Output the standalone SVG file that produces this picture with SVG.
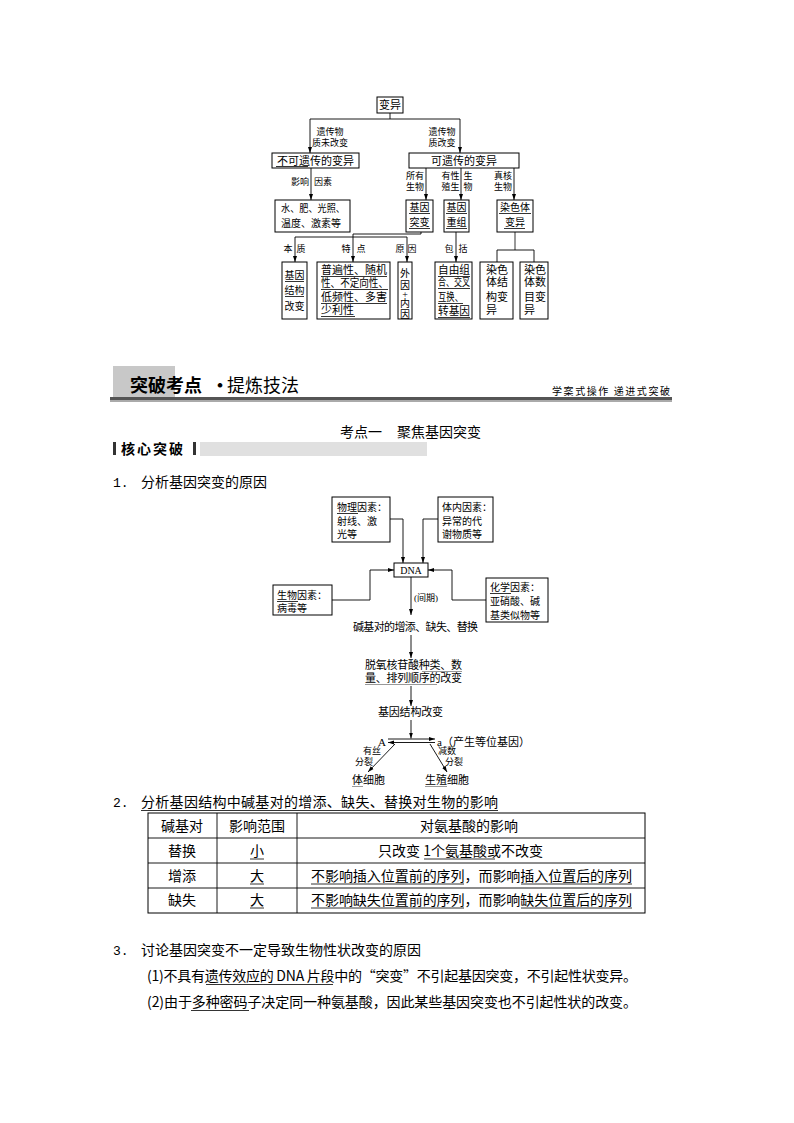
<svg xmlns="http://www.w3.org/2000/svg" width="794" height="1123" viewBox="0 0 794 1123">
<style>
.bx{fill:none;stroke:#000;stroke-width:1}
.ln{fill:none;stroke:#000;stroke-width:0.9}
.ar{fill:none;stroke:#000;stroke-width:0.9;marker-end:url(#ah)}
.ul{stroke:#000;stroke-width:0.8}
.ug{stroke:#999;stroke-width:1}
.d{font-family:"Liberation Serif","Noto Sans CJK SC",serif;fill:#000}
.s{font-family:"Noto Sans CJK SC",sans-serif;fill:#000}
.m{font-family:"Liberation Mono",monospace;fill:#000}
.c{text-anchor:middle}
.f9{font-size:9px}
.f10{font-size:10px}
.f11{font-size:11px}
.f14{font-size:14px}
</style>
<defs>
<marker id="ah" markerWidth="6" markerHeight="6" refX="6" refY="3" orient="auto" markerUnits="userSpaceOnUse">
<path d="M0,1 L6,3 L0,5 z" fill="#000"/>
</marker>
</defs>
<rect width="794" height="1123" fill="#fff"/>

<!-- ===== Top tree ===== -->
<g id="tree-connectors">
<path class="ln" d="M390,113 V119 M310,119 H460"/>
<path class="ar" d="M310,119 V153"/>
<path class="ar" d="M460,119 V153"/>
<path class="ar" d="M311,168 V200"/>
<path class="ar" d="M426,168 V200"/>
<path class="ar" d="M461,168 V200"/>
<path class="ar" d="M514,168 V200"/>
<path class="ar" d="M421,232 V234 H353 V262"/>
<path class="ln" d="M295,237 H407"/>
<path class="ar" d="M295,237 V262"/>
<path class="ar" d="M407,237 V262"/>
<path class="ar" d="M456,232 V262"/>
<path d="M515,232 V250" stroke="#999" stroke-width="2" fill="none"/>
<path class="ln" d="M497,262 V250 H534 V262"/>
</g>
<g id="tree-labels" class="d f9">
<text x="330" y="135" class="c">遗传物</text>
<text x="330" y="145.5" class="c">质未改变</text>
<text x="442" y="135" class="c">遗传物</text>
<text x="442" y="145.5" class="c">质改变</text>
<text x="300" y="185" class="c">影响</text>
<text x="323" y="185" class="c">因素</text>
<text x="415" y="179" class="c">所有</text>
<text x="415" y="189.5" class="c">生物</text>
<text x="450.5" y="179" class="c">有性</text>
<text x="450.5" y="189.5" class="c">殖生</text>
<text x="468" y="179" class="c">生</text>
<text x="468" y="189.5" class="c">物</text>
<text x="503" y="179" class="c">真核</text>
<text x="503" y="189.5" class="c">生物</text>
<text x="288" y="251.5" class="c">本</text>
<text x="301" y="251.5" class="c">质</text>
<text x="346" y="251.5" class="c">特</text>
<text x="361" y="251.5" class="c">点</text>
<text x="400" y="251.5" class="c">原</text>
<text x="412" y="251.5" class="c">因</text>
<text x="449" y="251.5" class="c">包</text>
<text x="463" y="251.5" class="c">括</text>
</g>
<g id="n-bianyi">
<rect class="bx" x="377" y="97" width="26" height="16"/>
<text class="d f11 c" x="390" y="109">变异</text>
</g>
<g id="n-bukeyichuan">
<rect class="bx" x="272" y="153" width="87" height="15"/>
<text class="d f11 c" x="315.5" y="164.5">不可遗传的变异</text>
<line class="ul" x1="276" y1="166.5" x2="308" y2="166.5"/>
</g>
<g id="n-keyichuan">
<rect class="bx" x="409" y="153" width="110" height="15"/>
<text class="d f11 c" x="464" y="164.5">可遗传的变异</text>
</g>
<g id="n-shuifei">
<rect class="bx" x="275" y="200" width="75" height="32"/>
<text class="d f10" x="281" y="212" textLength="64" lengthAdjust="spacingAndGlyphs">水、肥、光照、</text>
<text class="d f10" x="281" y="227" textLength="60" lengthAdjust="spacingAndGlyphs">温度、激素等</text>
</g>
<g id="n-jiyintubian">
<rect class="bx" x="406" y="200" width="27" height="32"/>
<text class="d f10 c" x="419.5" y="211">基因</text>
<text class="d f10 c" x="419.5" y="226">突变</text>
<line class="ul" x1="409" y1="213.5" x2="430" y2="213.5"/>
<line class="ul" x1="409" y1="228.5" x2="430" y2="228.5"/>
</g>
<g id="n-jiyinchongzu">
<rect class="bx" x="444" y="200" width="25" height="32"/>
<text class="d f10 c" x="456.5" y="211">基因</text>
<text class="d f10 c" x="456.5" y="226">重组</text>
<line class="ul" x1="446" y1="213.5" x2="467" y2="213.5"/>
<line class="ul" x1="446" y1="228.5" x2="467" y2="228.5"/>
</g>
<g id="n-ranseti">
<rect class="bx" x="497" y="200" width="36" height="32"/>
<text class="d f10 c" x="515" y="211">染色体</text>
<text class="d f10 c" x="515" y="226">变异</text>
<line class="ul" x1="499" y1="213.5" x2="531" y2="213.5"/>
<line class="ul" x1="504" y1="228.5" x2="525" y2="228.5"/>
</g>
<g id="n-jiegou">
<rect class="bx" x="282" y="262" width="25" height="57"/>
<text class="d f10 c" x="294.5" y="279">基因</text>
<text class="d f10 c" x="294.5" y="294">结构</text>
<text class="d f10 c" x="294.5" y="310">改变</text>
<line class="ul" x1="285" y1="281.5" x2="304" y2="281.5"/>
<line class="ul" x1="285" y1="296.5" x2="304" y2="296.5"/>
</g>
<g id="n-tedian">
<rect class="bx" x="317" y="262" width="73" height="57"/>
<text class="d f11" x="321" y="274" textLength="66" lengthAdjust="spacingAndGlyphs">普遍性、随机</text>
<text class="d f11" x="321" y="287" textLength="67" lengthAdjust="spacingAndGlyphs">性、不定向性、</text>
<text class="d f11" x="321" y="301" textLength="66" lengthAdjust="spacingAndGlyphs">低频性、多害</text>
<text class="d f11" x="321" y="314">少利性</text>
<line class="ul" x1="321" y1="276.5" x2="387" y2="276.5"/>
<line class="ul" x1="321" y1="289.5" x2="388" y2="289.5"/>
<line class="ul" x1="321" y1="303.5" x2="387" y2="303.5"/>
<line class="ul" x1="321" y1="316.5" x2="355" y2="316.5"/>
</g>
<g id="n-waiyin">
<rect class="bx" x="398" y="262" width="14" height="57"/>
<text class="d f10 c" x="405" y="277">外</text>
<text class="d f10 c" x="405" y="289">因</text>
<text class="d f10 c" x="405" y="298">+</text>
<text class="d f10 c" x="405" y="307">内</text>
<text class="d f10 c" x="405" y="318">因</text>
</g>
<g id="n-baokuo">
<rect class="bx" x="435" y="262" width="37" height="57"/>
<text class="d f11" x="438" y="274" textLength="32" lengthAdjust="spacingAndGlyphs">自由组</text>
<text class="d f11" x="438" y="286" textLength="32" lengthAdjust="spacingAndGlyphs">合、交叉</text>
<text class="d f11" x="438" y="301" textLength="25" lengthAdjust="spacingAndGlyphs">互换、</text>
<text class="d f11" x="438" y="315" textLength="32" lengthAdjust="spacingAndGlyphs">转基因</text>
<line class="ul" x1="438" y1="276.5" x2="470" y2="276.5"/>
<line class="ul" x1="438" y1="288.5" x2="470" y2="288.5"/>
<line class="ul" x1="438" y1="303.5" x2="463" y2="303.5"/>
<line class="ul" x1="438" y1="317.5" x2="470" y2="317.5"/>
</g>
<g id="n-jiegoubianyi">
<rect class="bx" x="480" y="262" width="33" height="57"/>
<text class="d f11" x="486" y="274">染色</text>
<text class="d f11" x="486" y="286">体结</text>
<text class="d f11" x="486" y="301">构变</text>
<text class="d f11" x="486" y="314">异</text>
</g>
<g id="n-shumubianyi">
<rect class="bx" x="520" y="262" width="28" height="57"/>
<text class="d f11" x="524" y="274">染色</text>
<text class="d f11" x="524" y="286">体数</text>
<text class="d f11" x="524" y="301">目变</text>
<text class="d f11" x="524" y="314">异</text>
</g>

<!-- ===== Banner ===== -->
<g id="banner">
<rect x="113" y="366" width="62" height="32" fill="#c8c8c8"/>
<text class="s" x="130" y="392" font-size="18" font-weight="bold">突破考点</text>
<text class="s" x="211" y="392" font-size="18" font-weight="bold">·</text>
<text class="s" x="227" y="392" font-size="18">提炼技法</text>
<rect x="110" y="397" width="562" height="3" fill="#555"/>
<rect x="110" y="400" width="562" height="2" fill="#aaa"/>
<text class="s" x="552" y="395" font-size="10" fill="#444" textLength="118">学案式操作 递进式突破</text>
</g>
<g id="kaodian">
<text class="s f14" x="340" y="437">考点一</text>
<text class="s f14" x="397" y="437">聚焦基因突变</text>
</g>
<g id="hexin">
<rect x="200" y="442" width="227" height="14" fill="#e0e0e0"/>
<rect x="113" y="442" width="3" height="13" fill="#333"/>
<rect x="193" y="442" width="3" height="13" fill="#333"/>
<text class="s f14" x="121" y="454" font-weight="bold" letter-spacing="2" fill="#222">核心突破</text>
</g>
<g id="sec1">
<text class="m" x="113" y="487" font-size="13">1.</text>
<text class="s f14" x="141" y="487">分析基因突变的原因</text>
</g>

<!-- ===== DNA diagram ===== -->
<g id="dna-connectors">
<path class="ar" d="M390,519 H403 V563"/>
<path class="ar" d="M438,519 H423 V563"/>
<path class="ar" d="M332,600 H370 V570 H394"/>
<path class="ar" d="M486,600 H452 V570 H428"/>
<path class="ar" d="M411,577 V615"/>
<path class="ar" d="M411,635 V658"/>
<path class="ar" d="M411,686 V706"/>
<path class="ar" d="M411,720 V738.5"/>
<path class="ar" d="M388,739 H435"/>
<path class="ar" d="M435,742.5 H388"/>
<path class="ar" d="M395,744 L368,772"/>
<path class="ar" d="M430,744 L447,772"/>
</g>
<g id="n-wuli">
<rect class="bx" x="332" y="497" width="58" height="45"/>
<text class="d f10" x="337" y="511">物理因素：</text>
<text class="d f10" x="337" y="525">射线、激</text>
<text class="d f10" x="337" y="538">光等</text>
<line class="ul" x1="337" y1="513.5" x2="358" y2="513.5"/>
</g>
<g id="n-tinei">
<rect class="bx" x="438" y="497" width="55" height="45"/>
<text class="d f10" x="442" y="511">体内因素：</text>
<text class="d f10" x="442" y="525">异常的代</text>
<text class="d f10" x="442" y="538">谢物质等</text>
</g>
<g id="n-dna">
<rect class="bx" x="394" y="563" width="34" height="14"/>
<text class="d c" x="411" y="574" font-size="10">DNA</text>
</g>
<g id="n-shengwu">
<rect class="bx" x="273" y="585" width="59" height="30"/>
<text class="d f10" x="277" y="599">生物因素：</text>
<text class="d f10" x="277" y="612">病毒等</text>
<line class="ul" x1="277" y1="601.5" x2="298" y2="601.5"/>
</g>
<g id="n-huaxue">
<rect class="bx" x="486" y="578" width="62" height="44"/>
<text class="d f10" x="490" y="591">化学因素：</text>
<text class="d f10" x="490" y="605">亚硝酸、碱</text>
<text class="d f10" x="490" y="619">基类似物等</text>
<line class="ul" x1="490" y1="593.5" x2="511" y2="593.5"/>
</g>
<g id="dna-texts">
<text class="d f9" x="414" y="601">(间期)</text>
<text class="d" x="353" y="631" font-size="11" textLength="125">碱基对的增添、缺失、替换</text>
<text class="d" x="365" y="669" font-size="11" textLength="97">脱氧核苷酸种类、数</text>
<text class="d" x="365" y="682" font-size="11" textLength="97">量、排列顺序的改变</text>
<line class="ug" x1="422" y1="671.5" x2="462" y2="671.5"/>
<line class="ug" x1="365" y1="684.5" x2="437" y2="684.5"/>
<text class="d" x="378" y="716" font-size="11" textLength="65">基因结构改变</text>
<text class="d" x="378" y="746" font-size="11">A</text>
<text class="d" x="437" y="746" font-size="11">a（产生等位基因）</text>
<text class="d f9" x="363" y="754">有丝</text>
<text class="d f9" x="355" y="765">分裂</text>
<text class="d f9" x="438" y="754">减数</text>
<text class="d f9" x="445" y="765">分裂</text>
<text class="d" x="352" y="784" font-size="11">体细胞</text>
<text class="d" x="425" y="784" font-size="11">生殖细胞</text>
<line class="ug" x1="352" y1="786.5" x2="363" y2="786.5"/>
<line class="ug" x1="425" y1="786.5" x2="447" y2="786.5"/>
</g>

<!-- ===== Section 2 table ===== -->
<g id="sec2">
<text class="m" x="113" y="807" font-size="13">2.</text>
<text class="s f14" x="141" y="807" textLength="357">分析基因结构中碱基对的增添、缺失、替换对生物的影响</text>
<line class="ul" x1="141" y1="810.5" x2="498" y2="810.5"/>
</g>
<g id="table">
<rect class="bx" x="148" y="813" width="497" height="100"/>
<path class="ln" d="M148,838 H645 M148,863 H645 M148,888 H645 M217,813 V913 M297,813 V913"/>
<text class="s f14 c" x="182" y="831">碱基对</text>
<text class="s f14 c" x="257" y="831">影响范围</text>
<text class="s f14 c" x="469" y="831">对氨基酸的影响</text>
<text class="s f14 c" x="182" y="856">替换</text>
<text class="s f14 c" x="257" y="856">小</text>
<line class="ul" x1="250" y1="859" x2="264" y2="859"/>
<text class="s f14" x="378" y="856">只改变 1个氨基酸或不改变</text>
<line class="ul" x1="424" y1="859" x2="495" y2="859"/>
<text class="s f14 c" x="182" y="881">增添</text>
<text class="s f14 c" x="257" y="881">大</text>
<line class="ul" x1="250" y1="884" x2="264" y2="884"/>
<text class="s f14" x="311" y="881" textLength="321">不影响插入位置前的序列，而影响插入位置后的序列</text>
<line class="ul" x1="311" y1="884" x2="464" y2="884"/>
<line class="ul" x1="521" y1="884" x2="632" y2="884"/>
<text class="s f14 c" x="182" y="905">缺失</text>
<text class="s f14 c" x="257" y="905">大</text>
<line class="ul" x1="250" y1="908" x2="264" y2="908"/>
<text class="s f14" x="311" y="905" textLength="321">不影响缺失位置前的序列，而影响缺失位置后的序列</text>
<line class="ul" x1="311" y1="908" x2="464" y2="908"/>
<line class="ul" x1="521" y1="908" x2="632" y2="908"/>
</g>

<!-- ===== Section 3 ===== -->
<g id="sec3">
<text class="m" x="113" y="955" font-size="13">3.</text>
<text class="s f14" x="141" y="955">讨论基因突变不一定导致生物性状改变的原因</text>
<text class="s f14" x="147" y="981" textLength="490">(1)不具有遗传效应的 DNA 片段中的“突变”不引起基因突变，不引起性状变异。</text>
<line class="ul" x1="206" y1="984.5" x2="333" y2="984.5"/>
<text class="s f14" x="147" y="1007" textLength="490">(2)由于多种密码子决定同一种氨基酸，因此某些基因突变也不引起性状的改变。</text>
<line class="ul" x1="191" y1="1010.5" x2="249" y2="1010.5"/>
</g>
</svg>
